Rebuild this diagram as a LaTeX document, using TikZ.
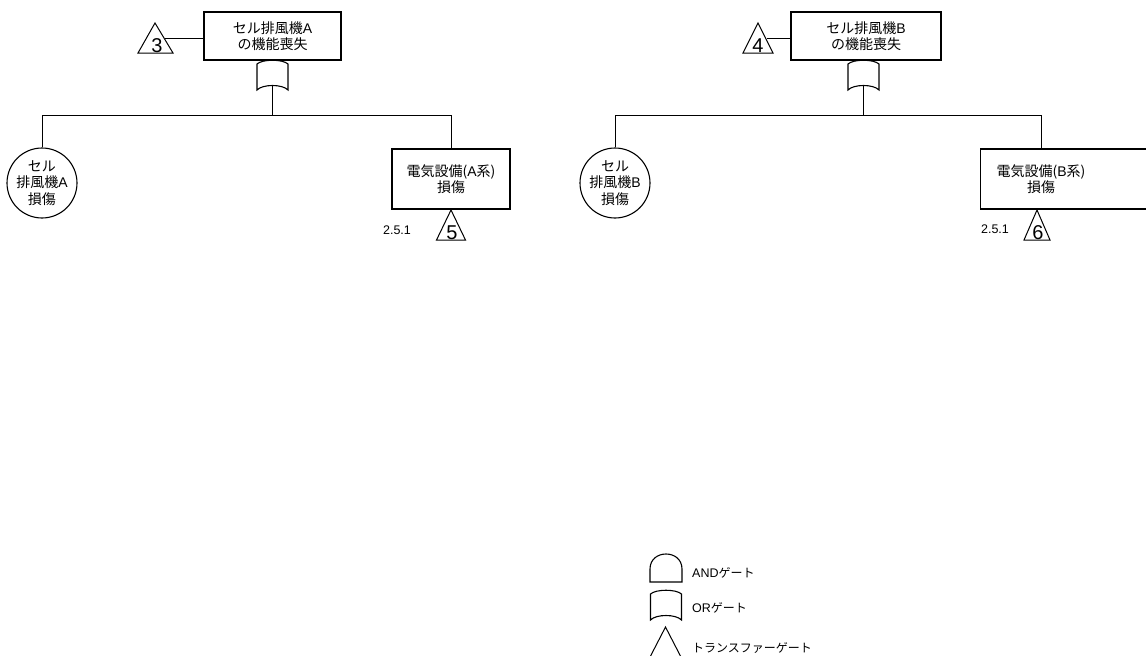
\documentclass[tikz,border=0pt]{standalone}
\usepackage{fontspec}
\setmainfont{Noto Sans CJK JP}
\newfontfamily\numfont{Liberation Sans}
\begin{document}
\begin{tikzpicture}[x=1pt,y=-1pt,
  jp/.style={font=\fontsize{14}{16.5}\selectfont, align=center, inner sep=0pt},
  evbox/.style={draw, line width=1.1pt, inner sep=0pt},
  basic/.style={circle, draw, line width=1.1pt, inner sep=0pt, minimum size=70pt, jp},
  conn/.style={line width=0.8pt},
  gconn/.style={line width=1.3pt},
  gateline/.style={line width=1.1pt},
  trline/.style={line width=1pt},
  num/.style={font=\numfont\fontsize{20}{20}\selectfont, inner sep=0pt},
  smalltxt/.style={font=\numfont\fontsize{12.5}{12.5}\selectfont, inner sep=0pt},
  leg/.style={font=\fontsize{12}{12}\selectfont, inner sep=0pt, anchor=west},
  orgate/.pic={\draw[gateline] (-15.5,4) .. controls (-10,-1) and (10,-1) .. (15.5,4) -- (15.5,30) .. controls (10,24) and (-10,24) .. (-15.5,30) -- cycle;
    \coordinate (-out) at (0,25.5);}
]
\useasboundingbox (0,0) rectangle (1146,656);
\clip (0,0) rectangle (1146,656);

% ---------- Tree A ----------
\node[evbox, minimum width=137pt, minimum height=48pt, jp] (topA) at (272.5,36) {セル排風機{\numfont A}\\の機能喪失};
\pic (gA) at (272.5,60) {orgate};
\coordinate (busA) at (272.5,115);
\draw[gconn] (gA-out) -- (busA);
\node[basic] (cA) at (42,183) {セル\\排風機{\numfont A}\\損傷};
\node[evbox, minimum width=118pt, minimum height=60pt, jp] (bA) at (451,179) {電気設備({\numfont A}系)\\損傷};
\draw[conn] (cA.north) -- (cA.north |- busA) -- (bA.north |- busA) -- (bA.north);

% transfer 3
\draw[trline] (138,53) -- (155,23) -- (173,53) -- cycle;
\node[num] (n3) at (157,45.5) {3};
\coordinate (t3r) at (165,38);
\draw[conn] (t3r) -- (t3r -| topA.west);

% transfer 5
\draw[trline] (436.5,240) -- (451,210) -- (465.5,240) -- cycle;
\node[num] (n5) at (452,232.5) {5};
\node[smalltxt] (refA) at (397,230) {2.5.1};

% ---------- Tree B ----------
\node[evbox, minimum width=150pt, minimum height=48pt, jp] (topB) at (866,36) {セル排風機{\numfont B}\\の機能喪失};
\pic (gB) at (863.5,60) {orgate};
\coordinate (busB) at (863.5,115);
\draw[gconn] (gB-out) -- (busB);
\node[basic] (cB) at (615,183) {セル\\排風機{\numfont B}\\損傷};
\node[evbox, minimum width=180pt, minimum height=60pt, anchor=west] (bB) at (980,179) {};
\node[jp] (bBt) at (1041,179) {電気設備({\numfont B}系)\\損傷};
\coordinate (bBin) at (1041,149);
\draw[conn] (cB.north) -- (cB.north |- busB) -- (bBin |- busB) -- (bBin);

% transfer 4
\draw[trline] (743,53) -- (758,23) -- (773,53) -- cycle;
\node[num] (n4) at (758,45.5) {4};
\coordinate (t4r) at (767,38);
\draw[conn] (t4r) -- (t4r -| topB.west);

% transfer 6
\draw[trline] (1024,240) -- (1037,210) -- (1050,240) -- cycle;
\node[num] (n6) at (1038,232.5) {6};
\node[smalltxt] (refB) at (995,229) {2.5.1};

% ---------- Legend ----------
\draw[gateline] (650,582) -- (650,569) .. controls (650,549) and (682,549) .. (682,569) -- (682,582) -- cycle;
\node[leg] (lAND) at (692,573) {{\numfont\fontsize{12.5}{12.5}\selectfont AND}ゲート};
\pic (gL) at (666,590) {orgate};
\node[leg] (lOR) at (692,608) {{\numfont\fontsize{12.5}{12.5}\selectfont OR}ゲート};
\draw[trline] (648.5,660) -- (665.5,627) -- (682.5,660);
\node[leg] (lTR) at (692,648) {トランスファーゲート};
\end{tikzpicture}
\end{document}
